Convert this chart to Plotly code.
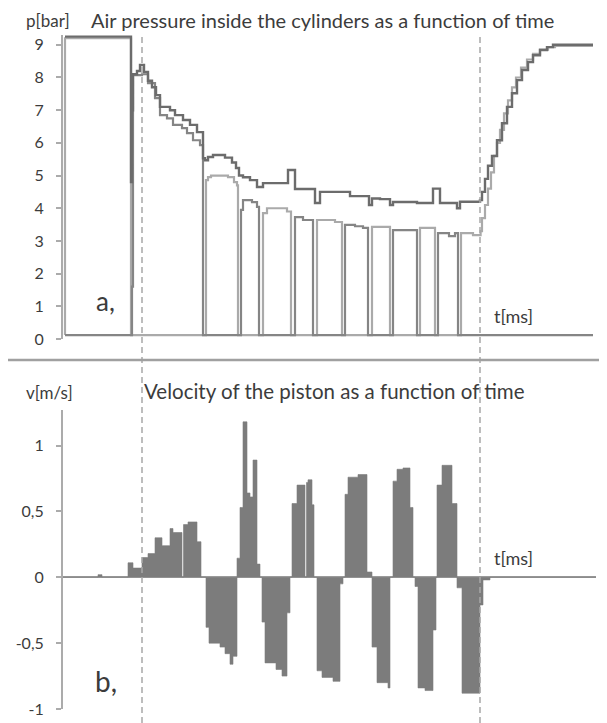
import plotly.graph_objects as go

# ---------------- data (t in ms, p in bar, v in m/s) ----------------
# upper (dark) cylinder pressure curve, step points
t_dark = [1.0, 34.0, 34.5, 35.0, 37.0, 38.5, 40.5, 42.5, 44.5, 46.5, 48.5, 53.5, 56.0, 60.0, 63.5, 67.0,
          70.0, 71.0, 72.5, 75.0, 81.0, 84.5, 86.5, 88.0, 90.0, 93.5, 97.0, 100.0, 112.5, 116.0, 126.0,
          128.5, 143.5, 153.0, 154.5, 158.5, 163.5, 165.0, 177.0, 185.0, 188.5, 197.0, 198.5, 208.5,
          209.5, 211.0, 212.5, 214.5, 217.0, 219.5, 222.0, 224.5, 227.0, 229.5, 232.5, 235.0, 238.5,
          242.0, 245.0, 265.0]
p_dark = [9.25, 4.8, 7.0, 8.1, 8.2, 8.38, 8.17, 7.9, 7.7, 7.46, 7.1, 7.0, 6.85, 6.7, 6.55, 6.33,
          5.53, 5.47, 5.57, 5.63, 5.55, 5.4, 5.23, 5.0, 4.95, 4.86, 4.65, 4.77, 5.17, 4.59, 4.16,
          4.5, 4.37, 4.1, 4.3, 4.28, 4.1, 4.19, 4.16, 4.6, 4.16, 4.0, 4.2, 4.25,
          4.5, 4.9, 5.3, 5.6, 6.08, 6.6, 7.1, 7.52, 7.92, 8.23, 8.47, 8.68, 8.84,
          8.93, 9.0, 9.0]

# light curve (chamber pressure, alternating with the medium one)
t_light = [1.0, 1.0, 34.0, 71.5, 72.5, 74.0, 82.5, 85.5, 87.0, 87.5, 100.0, 102.0, 112.0, 114.0,
           127.0, 136.0, 139.5, 154.5, 163.5, 178.5, 186.0, 199.0, 205.0, 208.8, 209.5, 211.0,
           212.5, 214.0, 215.5, 217.0, 218.5, 220.5, 222.5, 224.5, 226.5, 229.0, 232.0, 235.0,
           238.5, 242.5, 246.0, 265.0]
p_light = [0.12, 9.2, 0.12, 4.86, 4.95, 5.0, 4.95, 4.8, 4.7, 0.12, 3.85, 4.0, 3.9, 0.12,
           3.64, 3.58, 0.12, 3.43, 0.12, 3.4, 0.12, 3.24, 3.18, 3.3, 3.7, 4.1,
           4.6, 5.1, 5.6, 6.0, 6.4, 6.9, 7.3, 7.7, 8.0, 8.3, 8.55, 8.72,
           8.85, 8.93, 8.97, 8.97]

# medium curve (chamber pressure, alternating with the light one)
t_mid = [1.0, 34.0, 34.5, 35.0, 39.5, 42.5, 46.0, 48.5, 52.0, 55.0, 59.5, 62.0, 65.0, 68.5, 70.0,
         89.0, 90.0, 94.5, 97.0, 98.0, 116.0, 120.0, 125.0, 141.0, 146.0, 150.0, 152.5, 165.0,
         177.0, 187.5, 193.0, 196.0, 197.5, 265.0]
p_mid = [0.12, 0.12, 1.6, 8.07, 8.1, 7.83, 7.37, 6.85, 6.75, 6.55, 6.45, 6.3, 6.08, 5.93, 0.12,
         3.95, 4.25, 4.19, 4.04, 0.12, 3.73, 3.64, 0.12, 3.49, 3.45, 3.4, 0.12, 3.33,
         0.12, 3.24, 3.15, 3.24, 0.12, 0.12]

# piston velocity, step points
t_vel = [0.0, 17.5, 19.5, 32.5, 35.0, 39.5, 42.5, 46.0, 49.5, 53.5, 55.0, 59.5, 60.25, 62.5, 67.0,
         69.0, 71.5, 73.0, 78.5, 81.0, 83.5, 85.0, 87.0, 88.5, 90.0, 92.0, 93.5, 95.0, 97.0, 98.5,
         99.5, 101.0, 106.5, 109.5, 112.0, 113.5, 114.5, 117.0, 121.0, 121.75, 122.5, 124.5, 125.5,
         127.0, 129.5, 135.0, 138.5, 140.0, 141.0, 142.5, 147.5, 152.0, 154.5, 157.0, 162.5, 163.5,
         165.0, 167.0, 170.0, 173.5, 175.0, 176.0, 177.5, 181.0, 185.0, 186.5, 187.0, 189.5, 194.5,
         197.0, 199.5, 208.5, 210.0, 213.5, 266.5]
v_vel = [0.0, 0.02, 0.0, 0.11, 0.07, 0.15, 0.18, 0.30, 0.24, 0.37, 0.34, 0.0, 0.40, 0.42, 0.27,
         0.0, -0.38, -0.50, -0.53, -0.58, -0.66, -0.60, 0.145, 0.53, 1.18, 0.64, 0.61, 0.89, 0.10, 0.0,
         -0.34, -0.65, -0.70, -0.75, -0.27, 0.0, 0.56, 0.70, 0.0, 0.72, 0.74, 0.55, 0.0,
         -0.71, -0.76, -0.79, -0.05, 0.0, 0.63, 0.76, 0.78, 0.04, -0.53, -0.80, -0.84, 0.0,
         0.73, 0.82, 0.83, 0.53, 0.0, -0.07, -0.84, -0.86, -0.40, 0.0, 0.70, 0.85, 0.56,
         -0.08, -0.88, -0.21, -0.02, 0.0, 0.0]

marker_times = [39.5, 208.5]          # dashed vertical markers
p_ticks = [0, 1, 2, 3, 4, 5, 6, 7, 8, 9]
v_tickvals = [-1, -0.5, 0, 0.5, 1]
v_ticktext = ["-1", "-0,5", "0", "0,5", "1"]

# ---------------- figure ----------------
# the page body has an 8px margin, so the figure starts at (8, 8) in the window
OFF = 8
W, H = 607 - OFF, 723 - OFF
FONT = "Lato"
TXT = "#3c3c3c"

def px(x):
    return (x - OFF) / W

def py(y):
    return 1 - (y - OFF) / H

fig = go.Figure()
fig.add_trace(go.Scatter(x=t_light, y=p_light, mode="lines", line=dict(color="#aaaaaa", width=2.2, shape="hv"),
                         xaxis="x", yaxis="y", hoverinfo="skip"))
fig.add_trace(go.Scatter(x=t_mid, y=p_mid, mode="lines", line=dict(color="#858585", width=2.2, shape="hv"),
                         xaxis="x", yaxis="y", hoverinfo="skip"))
fig.add_trace(go.Scatter(x=t_dark, y=p_dark, mode="lines", line=dict(color="#6c6c6c", width=2.4, shape="hv"),
                         xaxis="x", yaxis="y", hoverinfo="skip"))
fig.add_trace(go.Scatter(x=t_vel, y=v_vel, mode="lines", fill="tozeroy", fillcolor="#7c7c7c",
                         line=dict(color="#7c7c7c", width=0.6, shape="hv"),
                         xaxis="x2", yaxis="y2", hoverinfo="skip"))

xdom = [px(63), px(596)]
xr = [0, 266.5]
axis_col = "#ababab"
tickfont = dict(family=FONT, size=16, color=TXT)

fig.update_layout(
    width=W, height=H, margin=dict(l=0, r=0, t=0, b=0),
    paper_bgcolor="white", plot_bgcolor="rgba(0,0,0,0)", showlegend=False,
    xaxis=dict(domain=xdom, range=xr, visible=False, anchor="y"),
    xaxis2=dict(domain=xdom, range=xr, visible=False, anchor="y2"),
    yaxis=dict(domain=[py(339), py(35)], range=[0, 9.3], anchor="x", tickvals=p_ticks,
               showline=True, linecolor=axis_col, linewidth=2, ticks="outside", ticklen=5,
               tickcolor=axis_col, tickwidth=1.5, showgrid=False, zeroline=False,
               tickfont=tickfont, ticklabelstandoff=9, automargin=False),
    yaxis2=dict(domain=[py(709), py(410)], range=[-1.0, 1.27], anchor="x2", tickvals=v_tickvals,
                ticktext=v_ticktext, showline=True, linecolor=axis_col, linewidth=2, ticks="outside",
                ticklen=5, tickcolor=axis_col, tickwidth=1.5, showgrid=False, zeroline=True,
                zerolinecolor="#9a9a9a", zerolinewidth=2, tickfont=tickfont, ticklabelstandoff=9,
                automargin=False),
)

shapes = []
for tm in marker_times:
    shapes.append(dict(type="line", xref="x", yref="paper", x0=tm, x1=tm, y0=0, y1=py(35),
                       line=dict(color="#a8a8a8", width=1.5, dash="6px,4px")))
shapes.append(dict(type="line", xref="paper", yref="paper", x0=0, x1=1, y0=py(360), y1=py(360),
                   line=dict(color="#a0a0a0", width=2.5)))
fig.update_layout(shapes=shapes)

def ann(text, x, y, size):
    return dict(text=text, x=px(x), y=py(y), xref="paper", yref="paper", xanchor="left",
                yanchor="middle", showarrow=False, font=dict(family=FONT, size=size, color=TXT))

fig.update_layout(annotations=[
    ann("p[bar]", 24, 20, 17),
    ann("Air pressure inside the cylinders as a function of time", 89, 20, 20),
    ann("a,", 94, 301, 26),
    ann("t[ms]", 492, 316, 18),
    ann("v[m/s]", 24, 392, 17),
    ann("Velocity of the piston as a function of time", 142, 391, 20.5),
    ann("t[ms]", 492, 558, 18),
    ann("b,", 93, 681, 28),
])

fig.write_html("out.html")
